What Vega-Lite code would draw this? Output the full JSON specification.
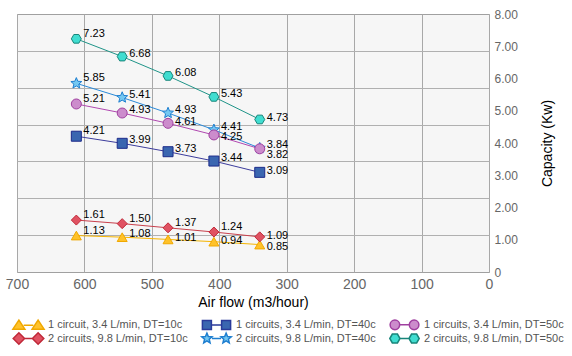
{
  "$schema": "https://vega.github.io/schema/vega-lite/v6.json",
  "autosize": {"type": "none"},
  "width": 472,
  "height": 258,
  "padding": {"left": 17, "top": 14, "right": 83, "bottom": 84},
  "background": "white",
  "config": {
    "font": "Liberation Sans",
    "view": {"stroke": "#a0a0a0", "fill": "#f6f6f6"}
  },
  "data": {
    "values": [
      {"k": 1, "series": "1 circuit, 3.4 L/min, DT=10c", "x": 612, "y": 1.13},
      {"k": 1, "series": "1 circuit, 3.4 L/min, DT=10c", "x": 544, "y": 1.08},
      {"k": 1, "series": "1 circuit, 3.4 L/min, DT=10c", "x": 476, "y": 1.01},
      {"k": 1, "series": "1 circuit, 3.4 L/min, DT=10c", "x": 408, "y": 0.94},
      {"k": 1, "series": "1 circuit, 3.4 L/min, DT=10c", "x": 340, "y": 0.85},
      {"k": 2, "series": "2 circuits, 9.8 L/min, DT=10c", "x": 612, "y": 1.61},
      {"k": 2, "series": "2 circuits, 9.8 L/min, DT=10c", "x": 544, "y": 1.50},
      {"k": 2, "series": "2 circuits, 9.8 L/min, DT=10c", "x": 476, "y": 1.37},
      {"k": 2, "series": "2 circuits, 9.8 L/min, DT=10c", "x": 408, "y": 1.24},
      {"k": 2, "series": "2 circuits, 9.8 L/min, DT=10c", "x": 340, "y": 1.09},
      {"k": 3, "series": "1 circuits, 3.4 L/min, DT=40c", "x": 612, "y": 4.21},
      {"k": 3, "series": "1 circuits, 3.4 L/min, DT=40c", "x": 544, "y": 3.99},
      {"k": 3, "series": "1 circuits, 3.4 L/min, DT=40c", "x": 476, "y": 3.73},
      {"k": 3, "series": "1 circuits, 3.4 L/min, DT=40c", "x": 408, "y": 3.44},
      {"k": 3, "series": "1 circuits, 3.4 L/min, DT=40c", "x": 340, "y": 3.09},
      {"k": 4, "series": "2 circuits, 9.8 L/min, DT=40c", "x": 612, "y": 5.85},
      {"k": 4, "series": "2 circuits, 9.8 L/min, DT=40c", "x": 544, "y": 5.41},
      {"k": 4, "series": "2 circuits, 9.8 L/min, DT=40c", "x": 476, "y": 4.93},
      {"k": 4, "series": "2 circuits, 9.8 L/min, DT=40c", "x": 408, "y": 4.41},
      {"k": 4, "series": "2 circuits, 9.8 L/min, DT=40c", "x": 340, "y": 3.84},
      {"k": 5, "series": "1 circuits, 3.4 L/min, DT=50c", "x": 612, "y": 5.21},
      {"k": 5, "series": "1 circuits, 3.4 L/min, DT=50c", "x": 544, "y": 4.93},
      {"k": 5, "series": "1 circuits, 3.4 L/min, DT=50c", "x": 476, "y": 4.61},
      {"k": 5, "series": "1 circuits, 3.4 L/min, DT=50c", "x": 408, "y": 4.25},
      {"k": 5, "series": "1 circuits, 3.4 L/min, DT=50c", "x": 340, "y": 3.82},
      {"k": 6, "series": "2 circuits, 9.8 L/min, DT=50c", "x": 612, "y": 7.23},
      {"k": 6, "series": "2 circuits, 9.8 L/min, DT=50c", "x": 544, "y": 6.68},
      {"k": 6, "series": "2 circuits, 9.8 L/min, DT=50c", "x": 476, "y": 6.08},
      {"k": 6, "series": "2 circuits, 9.8 L/min, DT=50c", "x": 408, "y": 5.43},
      {"k": 6, "series": "2 circuits, 9.8 L/min, DT=50c", "x": 340, "y": 4.73}
    ]
  },
  "resolve": {
    "scale": {"shape": "independent", "fill": "independent", "stroke": "independent"},
    "axis": {"y": "independent"}
  },
  "layer": [
    {
      "mark": {"type": "line", "strokeWidth": 1},
      "encoding": {
        "x": {
          "field": "x", "type": "quantitative",
          "scale": {"domain": [0, 700], "reverse": true, "nice": false},
          "axis": {"values": [0, 100, 200, 300, 400, 500, 600, 700], "grid": true, "gridColor": "#a8a8a8", "gridOpacity": 1, "domain": false, "ticks": false, "labelFlush": false, "labelColor": "#666666", "labelFontSize": 14, "labelPadding": 5, "title": "Air flow (m3/hour)", "titleFontSize": 14, "titleFontWeight": "normal", "titleColor": "#000000", "titlePadding": 4}
        },
        "y": {
          "field": "y", "type": "quantitative",
          "scale": {"domain": [0, 8], "nice": false},
          "axis": {
            "orient": "right",
            "values": [0, 1, 2, 3, 4, 5, 6, 7, 8],
            "labelExpr": "datum.value == 0 ? '0' : format(datum.value, '.2f')",
            "grid": false, "domain": false, "ticks": false,
            "labelColor": "#666666", "labelFontSize": 12, "labelPadding": 5,
            "title": "Capacity (Kw)", "titleFontSize": 14, "titleFontWeight": "normal",
            "titleColor": "#000000", "titleAngle": 270, "titlePadding": 37
          }
        },
        "detail": {"field": "series"},
        "stroke": {
          "field": "series", "type": "nominal", "legend": null,
          "scale": {
            "domain": ["1 circuit, 3.4 L/min, DT=10c", "1 circuits, 3.4 L/min, DT=40c", "1 circuits, 3.4 L/min, DT=50c", "2 circuits, 9.8 L/min, DT=10c", "2 circuits, 9.8 L/min, DT=40c", "2 circuits, 9.8 L/min, DT=50c"],
            "range": ["#f5b400", "#3c3c9c", "#b048b0", "#c8404c", "#2b8ad8", "#1f9488"]
          }
        }
      }
    },
    {
      "mark": {"type": "point", "filled": true, "opacity": 1, "size": 100, "strokeWidth": 1},
      "encoding": {
        "x": {
          "field": "x", "type": "quantitative",
          "axis": {"values": [0, 100, 200, 300, 400, 500, 600, 700], "grid": true, "gridColor": "#a8a8a8", "gridOpacity": 1, "domain": false, "ticks": false, "labelFlush": false, "labelColor": "#666666", "labelFontSize": 14, "labelPadding": 5, "title": "Air flow (m3/hour)", "titleFontSize": 14, "titleFontWeight": "normal", "titleColor": "#000000", "titlePadding": 4}
        },
        "y": {
          "field": "y", "type": "quantitative",
          "axis": {
            "orient": "left",
            "values": [1.142857, 2.285714, 3.428571, 4.571429, 5.714286, 6.857143],
            "grid": true, "gridColor": "#b0b0b0", "gridOpacity": 1,
            "labels": false, "domain": false, "ticks": false, "title": null
          }
        },
        "shape": {
          "field": "series", "type": "nominal", "legend": null,
          "scale": {
            "domain": ["1 circuit, 3.4 L/min, DT=10c", "1 circuits, 3.4 L/min, DT=40c", "1 circuits, 3.4 L/min, DT=50c", "2 circuits, 9.8 L/min, DT=10c", "2 circuits, 9.8 L/min, DT=40c", "2 circuits, 9.8 L/min, DT=50c"],
            "range": [
              "triangle-up",
              "square",
              "circle",
              "diamond",
              "M0,-1.15L0.3,-0.42L1.09,-0.36L0.49,0.16L0.68,0.93L0,0.52L-0.68,0.93L-0.49,0.16L-1.09,-0.36L-0.3,-0.42Z",
              "M-1,0L-0.5,-0.866L0.5,-0.866L1,0L0.5,0.866L-0.5,0.866Z"
            ]
          }
        },
        "fill": {
          "field": "series", "type": "nominal", "legend": null,
          "scale": {
            "domain": ["1 circuit, 3.4 L/min, DT=10c", "1 circuits, 3.4 L/min, DT=40c", "1 circuits, 3.4 L/min, DT=50c", "2 circuits, 9.8 L/min, DT=10c", "2 circuits, 9.8 L/min, DT=40c", "2 circuits, 9.8 L/min, DT=50c"],
            "range": ["#ffc22a", "#3a66b0", "#cc8ccc", "#e05262", "#74c8f2", "#40ddd0"]
          }
        },
        "stroke": {
          "field": "series", "type": "nominal", "legend": null,
          "scale": {
            "domain": ["1 circuit, 3.4 L/min, DT=10c", "1 circuits, 3.4 L/min, DT=40c", "1 circuits, 3.4 L/min, DT=50c", "2 circuits, 9.8 L/min, DT=10c", "2 circuits, 9.8 L/min, DT=40c", "2 circuits, 9.8 L/min, DT=50c"],
            "range": ["#f0a800", "#1c2a8a", "#a040a0", "#c02838", "#1f7fd0", "#18857a"]
          }
        }
      }
    },
    {
      "transform": [{"filter": "datum.x == 612 || (datum.k == 2 && datum.x >= 408)"}],
      "mark": {"type": "text", "align": "left", "baseline": "middle", "dx": 7, "dy": -5, "fontSize": 11, "color": "#000000"},
      "encoding": {
        "x": {
          "field": "x", "type": "quantitative",
          "axis": {"values": [0, 100, 200, 300, 400, 500, 600, 700], "grid": true, "gridColor": "#a8a8a8", "gridOpacity": 1, "domain": false, "ticks": false, "labelFlush": false, "labelColor": "#666666", "labelFontSize": 14, "labelPadding": 5, "title": "Air flow (m3/hour)", "titleFontSize": 14, "titleFontWeight": "normal", "titleColor": "#000000", "titlePadding": 4}
        },
        "y": {"field": "y", "type": "quantitative", "axis": null},
        "text": {"field": "y", "type": "quantitative", "format": ".2f"}
      }
    },
    {
      "transform": [{"filter": "(datum.x == 340 && (datum.k == 2 || datum.k == 3 || datum.k == 6)) || (datum.x == 476 && (datum.k == 1 || datum.k == 5)) || (datum.k == 1 && datum.x == 408)"}],
      "mark": {"type": "text", "align": "left", "baseline": "middle", "dx": 7, "dy": -1, "fontSize": 11, "color": "#000000"},
      "encoding": {
        "x": {
          "field": "x", "type": "quantitative",
          "axis": {"values": [0, 100, 200, 300, 400, 500, 600, 700], "grid": true, "gridColor": "#a8a8a8", "gridOpacity": 1, "domain": false, "ticks": false, "labelFlush": false, "labelColor": "#666666", "labelFontSize": 14, "labelPadding": 5, "title": "Air flow (m3/hour)", "titleFontSize": 14, "titleFontWeight": "normal", "titleColor": "#000000", "titlePadding": 4}
        },
        "y": {"field": "y", "type": "quantitative", "axis": null},
        "text": {"field": "y", "type": "quantitative", "format": ".2f"}
      }
    },
    {
      "transform": [{"filter": "(datum.k == 5 && datum.x == 408) || (datum.k == 1 && datum.x == 340)"}],
      "mark": {"type": "text", "align": "left", "baseline": "middle", "dx": 7, "dy": 2, "fontSize": 11, "color": "#000000"},
      "encoding": {
        "x": {
          "field": "x", "type": "quantitative",
          "axis": {"values": [0, 100, 200, 300, 400, 500, 600, 700], "grid": true, "gridColor": "#a8a8a8", "gridOpacity": 1, "domain": false, "ticks": false, "labelFlush": false, "labelColor": "#666666", "labelFontSize": 14, "labelPadding": 5, "title": "Air flow (m3/hour)", "titleFontSize": 14, "titleFontWeight": "normal", "titleColor": "#000000", "titlePadding": 4}
        },
        "y": {"field": "y", "type": "quantitative", "axis": null},
        "text": {"field": "y", "type": "quantitative", "format": ".2f"}
      }
    },
    {
      "transform": [{"filter": "datum.k == 5 && datum.x == 340"}],
      "mark": {"type": "text", "align": "left", "baseline": "middle", "dx": 7, "dy": 6, "fontSize": 11, "color": "#000000"},
      "encoding": {
        "x": {
          "field": "x", "type": "quantitative",
          "axis": {"values": [0, 100, 200, 300, 400, 500, 600, 700], "grid": true, "gridColor": "#a8a8a8", "gridOpacity": 1, "domain": false, "ticks": false, "labelFlush": false, "labelColor": "#666666", "labelFontSize": 14, "labelPadding": 5, "title": "Air flow (m3/hour)", "titleFontSize": 14, "titleFontWeight": "normal", "titleColor": "#000000", "titlePadding": 4}
        },
        "y": {"field": "y", "type": "quantitative", "axis": null},
        "text": {"field": "y", "type": "quantitative", "format": ".2f"}
      }
    },
    {
      "transform": [{"filter": "!(datum.x == 612 || (datum.k == 2 && datum.x >= 408)) && !((datum.x == 340 && (datum.k == 2 || datum.k == 3 || datum.k == 6)) || (datum.x == 476 && (datum.k == 1 || datum.k == 5)) || (datum.k == 1 && datum.x == 408)) && !((datum.k == 5 && datum.x == 408) || (datum.k == 1 && datum.x == 340)) && !(datum.k == 5 && datum.x == 340)"}],
      "mark": {"type": "text", "align": "left", "baseline": "middle", "dx": 7, "dy": -3, "fontSize": 11, "color": "#000000"},
      "encoding": {
        "x": {
          "field": "x", "type": "quantitative",
          "axis": {"values": [0, 100, 200, 300, 400, 500, 600, 700], "grid": true, "gridColor": "#a8a8a8", "gridOpacity": 1, "domain": false, "ticks": false, "labelFlush": false, "labelColor": "#666666", "labelFontSize": 14, "labelPadding": 5, "title": "Air flow (m3/hour)", "titleFontSize": 14, "titleFontWeight": "normal", "titleColor": "#000000", "titlePadding": 4}
        },
        "y": {"field": "y", "type": "quantitative", "axis": null},
        "text": {"field": "y", "type": "quantitative", "format": ".2f"}
      }
    },
    {
      "transform": [{"filter": "false"}],
      "mark": {"type": "point", "filled": true, "opacity": 1, "strokeWidth": 1.3},
      "encoding": {
        "x": {
          "field": "x", "type": "quantitative",
          "axis": {"values": [0, 100, 200, 300, 400, 500, 600, 700], "grid": true, "gridColor": "#a8a8a8", "gridOpacity": 1, "domain": false, "ticks": false, "labelFlush": false, "labelColor": "#666666", "labelFontSize": 14, "labelPadding": 5, "title": "Air flow (m3/hour)", "titleFontSize": 14, "titleFontWeight": "normal", "titleColor": "#000000", "titlePadding": 4}
        },
        "y": {"field": "y", "type": "quantitative", "axis": null},
        "shape": {
          "field": "series", "type": "nominal",
          "scale": {
            "domain": ["1 circuit, 3.4 L/min, DT=10c", "1 circuits, 3.4 L/min, DT=40c", "1 circuits, 3.4 L/min, DT=50c", "2 circuits, 9.8 L/min, DT=10c", "2 circuits, 9.8 L/min, DT=40c", "2 circuits, 9.8 L/min, DT=50c"],
            "range": [
              "M-5.2,1.3L-3.2,-1.7L-1.2,1.3Z M1.2,1.3L3.2,-1.7L5.2,1.3Z M-1.6,0L1.6,0",
              "M-4.7,-1.5L-1.7,-1.5L-1.7,1.5L-4.7,1.5Z M1.7,-1.5L4.7,-1.5L4.7,1.5L1.7,1.5Z M-1.7,0L1.7,0",
              "M-1.6,0A1.6,1.6 0 1 0 -4.8,0A1.6,1.6 0 1 0 -1.6,0Z M4.8,0A1.6,1.6 0 1 0 1.6,0A1.6,1.6 0 1 0 4.8,0Z M-1.6,0L1.6,0",
              "M-5.1,0L-3.2,-1.9L-1.3,0L-3.2,1.9Z M1.3,0L3.2,-1.9L5.1,0L3.2,1.9Z M-1.3,0L1.3,0",
              "M-3.2,-1.8L-2.724,-0.655L-1.488,-0.556L-2.43,0.25L-2.142,1.456L-3.2,0.81L-4.258,1.456L-3.97,0.25L-4.912,-0.556L-3.676,-0.655Z M3.2,-1.8L3.676,-0.655L4.912,-0.556L3.97,0.25L4.258,1.456L3.2,0.81L2.142,1.456L2.43,0.25L1.488,-0.556L2.724,-0.655Z M-1.5,0L1.5,0",
              "M-4.9,0L-4.05,-1.47L-2.35,-1.47L-1.5,0L-2.35,1.47L-4.05,1.47Z M1.5,0L2.35,-1.47L4.05,-1.47L4.9,0L4.05,1.47L2.35,1.47Z M-1.5,0L1.5,0"
            ]
          },
          "legend": {"title": null, "orient": "none", "legendX": -5, "legendY": 305, "direction": "horizontal", "columns": 3, "columnPadding": 10, "rowPadding": -8, "symbolSize": 36, "symbolOffset": 11, "labelOffset": 14, "labelFontSize": 11, "labelColor": "#555555", "labelLimit": 300}
        },
        "fill": {
          "field": "series", "type": "nominal",
          "scale": {
            "domain": ["1 circuit, 3.4 L/min, DT=10c", "1 circuits, 3.4 L/min, DT=40c", "1 circuits, 3.4 L/min, DT=50c", "2 circuits, 9.8 L/min, DT=10c", "2 circuits, 9.8 L/min, DT=40c", "2 circuits, 9.8 L/min, DT=50c"],
            "range": ["#ffc22a", "#3a66b0", "#cc8ccc", "#e05262", "#74c8f2", "#40ddd0"]
          },
          "legend": {"title": null, "orient": "none", "legendX": -5, "legendY": 305, "direction": "horizontal", "columns": 3, "columnPadding": 10, "rowPadding": -8, "symbolSize": 36, "symbolOffset": 11, "labelOffset": 14, "labelFontSize": 11, "labelColor": "#555555", "labelLimit": 300}
        },
        "stroke": {
          "field": "series", "type": "nominal",
          "scale": {
            "domain": ["1 circuit, 3.4 L/min, DT=10c", "1 circuits, 3.4 L/min, DT=40c", "1 circuits, 3.4 L/min, DT=50c", "2 circuits, 9.8 L/min, DT=10c", "2 circuits, 9.8 L/min, DT=40c", "2 circuits, 9.8 L/min, DT=50c"],
            "range": ["#f0a800", "#2a3a9a", "#a040a0", "#c02838", "#1f7fd0", "#18857a"]
          },
          "legend": {"title": null, "orient": "none", "legendX": -5, "legendY": 305, "direction": "horizontal", "columns": 3, "columnPadding": 10, "rowPadding": -8, "symbolSize": 36, "symbolOffset": 11, "labelOffset": 14, "labelFontSize": 11, "labelColor": "#555555", "labelLimit": 300}
        }
      }
    }
  ]
}
